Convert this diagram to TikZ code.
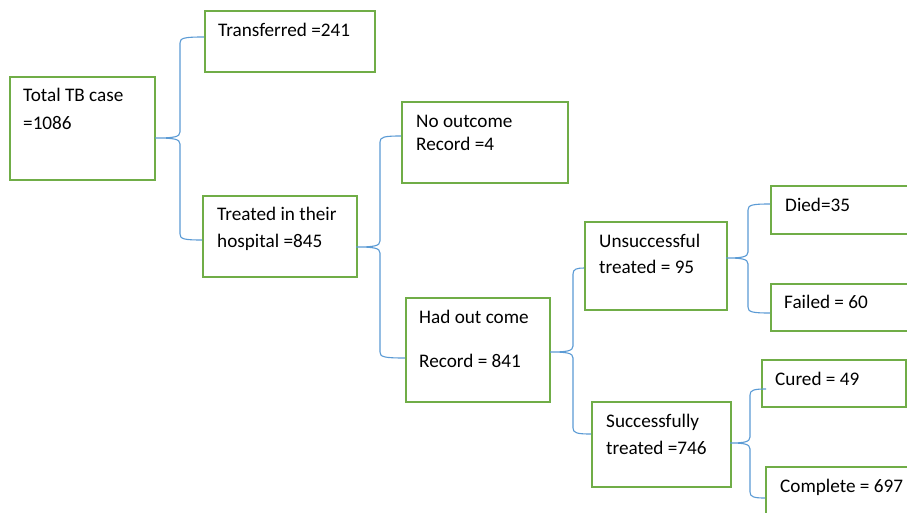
\documentclass[tikz,border=0pt]{standalone}
\usepackage{fontspec}
\setmainfont{Carlito}
\usetikzlibrary{calc}
\definecolor{boxgreen}{HTML}{70AD47}
\definecolor{conblue}{HTML}{5B9BD5}
\tikzset{
  box/.style={draw=boxgreen, line width=2pt, inner sep=0pt, anchor=north west},
  txt/.style={anchor=north west, inner sep=0pt, align=left, font=\fontsize{19.2}{27}\selectfont},
  con/.style={draw=conblue, line width=1.1pt},
}
% #1 tip, #2 x of the vertical, #3 top end, #4 bottom end
\newcommand\bracecon[4]{%
  \draw[con] let \p1=(#1),\p2=(#3),\p3=(#4) in
    (\p2) .. controls (#2pt+4pt,\y2) and (#2pt,\y2-1pt) .. (#2pt,\y2-6pt)
    -- (#2pt,\y1+6pt) .. controls (#2pt,\y1+1pt) and (#2pt-6pt,\y1) .. (\p1)
    .. controls (#2pt-6pt,\y1) and (#2pt,\y1-1pt) .. (#2pt,\y1-6pt)
    -- (#2pt,\y3+6pt) .. controls (#2pt,\y3+1pt) and (#2pt+4pt,\y3) .. (\p3);}
\begin{document}
\begin{tikzpicture}[x=1pt,y=-1pt]
\useasboundingbox (0,0) rectangle (907,513);
\fill[white] (0,0) rectangle (907,513);
\clip (0,0) rectangle (907,513);

% boxes
\node[box, minimum width=145pt, minimum height=103pt] (total) at (9,76) {};
\node[box, minimum width=170pt, minimum height=61pt] (trans) at (204,10) {};
\node[box, minimum width=154pt, minimum height=81pt] (treat) at (202,195) {};
\node[box, minimum width=166pt, minimum height=81pt] (noout) at (401,101) {};
\node[box, minimum width=144pt, minimum height=104pt] (had) at (405,297) {};
\node[box, minimum width=142pt, minimum height=88pt] (unsucc) at (584,221) {};
\node[box, minimum width=139pt, minimum height=85pt] (succ) at (591,401) {};
\node[box, minimum width=150pt, minimum height=48pt] (died) at (770,185) {};
\node[box, minimum width=150pt, minimum height=47pt] (failed) at (770,283) {};
\node[box, minimum width=144pt, minimum height=47pt] (cured) at (761,359) {};
\node[box, minimum width=150pt, minimum height=60pt] (compl) at (765,466) {};

% texts
\node[txt] (ttotal) at (23,82.6) {\strut Total TB case\\[0.5pt]=1086};
\node[txt] (ttrans) at (218,17.1) {\strut Transferred =241};
\node[txt] (ttreat) at (217,201.1) {\strut Treated in their\\hospital =845};
\node[txt] (tnoout) at (416,108.1) {\strut No outcome\\[-4pt]Record =4};
\node[txt] (thad) at (419,304.1) {\strut Had out come\\[17pt]Record = 841};
\node[txt] (tunsucc) at (599,228.1) {\strut Unsuccessful\\[-1pt]treated = 95};
\node[txt] (tsucc) at (606,408.1) {\strut Successfully\\treated =746};
\node[txt] (tdied) at (785,192.1) {\strut Died=35};
\node[txt] (tfailed) at (784,289.1) {\strut Failed = 60};
\node[txt] (tcured) at (775,366.1) {\strut Cured = 49};
\node[txt] (tcompl) at (780,473.1) {\strut Complete = 697};

% connector end points
\coordinate (tip1) at (155,138);
\coordinate (a1) at (204,37);
\coordinate (b1) at (202,240);
\coordinate (tip2) at (356,247);
\coordinate (a2) at (401,136);
\coordinate (b2) at (405,358);
\coordinate (tip3) at (550,352);
\coordinate (a3) at (584,268);
\coordinate (b3) at (591,434);
\coordinate (tip4) at (726,258);
\coordinate (a4) at (770,204);
\coordinate (b4) at (770,313);
\coordinate (tip5) at (730,443);
\coordinate (a5) at (766,389);
\coordinate (b5) at (765,498);

\bracecon{tip1}{180}{a1}{b1}
\bracecon{tip2}{380}{a2}{b2}
\bracecon{tip3}{573}{a3}{b3}
\bracecon{tip4}{748}{a4}{b4}
\bracecon{tip5}{750}{a5}{b5}
\end{tikzpicture}
\end{document}
